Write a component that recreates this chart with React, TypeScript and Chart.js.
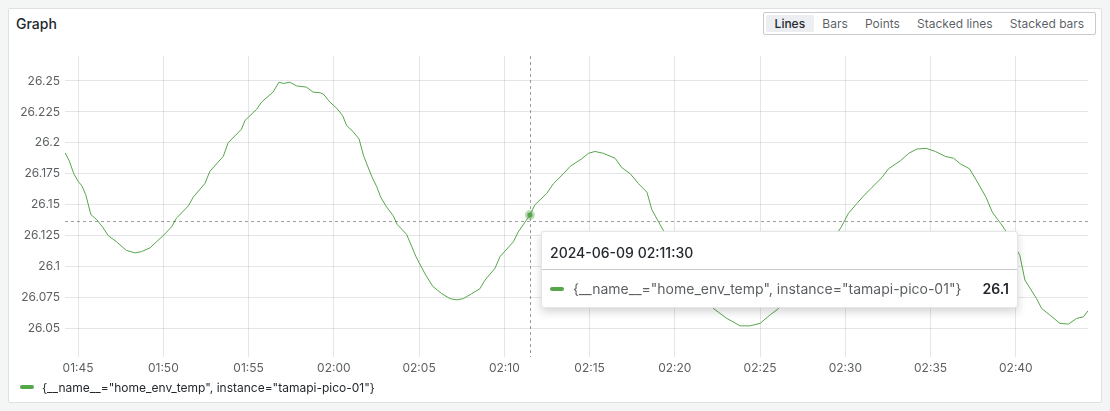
import React, { useEffect, useRef } from "react";
import { Chart, registerables } from "chart.js";

Chart.register(...registerables);

// ---- data ----
const times = [
  "01:44:14", "01:44:28", "01:44:45", "01:45:00", "01:45:14", "01:45:27", "01:45:45", "01:46:05",
  "01:46:26", "01:46:46", "01:47:15", "01:47:50", "01:48:20", "01:48:43", "01:49:13", "01:49:36",
  "01:50:00", "01:50:29", "01:50:46", "01:51:28", "01:51:45", "01:52:26", "01:52:44", "01:53:31",
  "01:53:48", "01:54:35", "01:54:47", "01:55:28", "01:55:46", "01:56:26", "01:56:47", "01:57:02",
  "01:57:25", "01:57:49", "01:58:24", "01:58:47", "01:59:11", "01:59:23", "01:59:46", "02:00:10",
  "02:00:31", "02:00:45", "02:01:08", "02:01:29", "02:01:44", "02:02:13", "02:02:31", "02:02:45",
  "02:03:06", "02:03:29", "02:03:43", "02:04:16", "02:04:49", "02:05:21", "02:05:48", "02:06:20",
  "02:06:49", "02:07:13", "02:07:36", "02:08:05", "02:08:34", "02:08:52", "02:09:27", "02:09:45",
  "02:10:32", "02:10:49", "02:11:30", "02:11:48", "02:12:29", "02:12:53", "02:13:28", "02:13:52",
  "02:14:32", "02:14:56", "02:15:19", "02:15:49", "02:16:30", "02:16:53", "02:17:23", "02:17:52",
  "02:18:22", "02:18:39", "02:19:20", "02:20:00", "02:20:42", "02:21:30", "02:22:16", "02:23:03",
  "02:23:50", "02:24:25", "02:25:00", "02:25:36", "02:26:00", "02:27:00", "02:28:00", "02:29:00",
  "02:29:46", "02:30:11", "02:30:41", "02:31:04", "02:31:34", "02:32:09", "02:32:32", "02:33:14",
  "02:33:43", "02:34:12", "02:34:45", "02:35:17", "02:35:52", "02:36:21", "02:36:45", "02:37:17",
  "02:37:44", "02:38:16", "02:38:37", "02:39:06", "02:39:21", "02:39:48", "02:40:14", "02:40:32",
  "02:41:13", "02:41:31", "02:42:00", "02:42:35", "02:43:05", "02:43:34", "02:43:58", "02:44:14",
];

const values = [
  26.192, 26.186, 26.175, 26.169, 26.165, 26.158, 26.142, 26.138,
  26.132, 26.125, 26.12, 26.113, 26.111, 26.112, 26.115, 26.12,
  26.125, 26.132, 26.139, 26.149, 26.156, 26.167, 26.177, 26.189,
  26.2, 26.211, 26.218, 26.227, 26.233, 26.241, 26.249, 26.248,
  26.249, 26.246, 26.245, 26.241, 26.2405, 26.2395, 26.233, 26.228,
  26.222, 26.214, 26.209, 26.203, 26.19, 26.173, 26.1645, 26.156,
  26.148, 26.141, 26.134, 26.126, 26.108, 26.094, 26.084, 26.078,
  26.074, 26.073, 26.074, 26.078, 26.082, 26.089, 26.0985, 26.108,
  26.12, 26.128, 26.1416, 26.15, 26.159, 26.167, 26.175, 26.181,
  26.187, 26.1915, 26.193, 26.1915, 26.1875, 26.18, 26.175, 26.167,
  26.16, 26.146, 26.129, 26.113, 26.097, 26.078, 26.066, 26.058,
  26.052, 26.052, 26.054, 26.061, 26.065, 26.079, 26.096, 26.116,
  26.132, 26.143, 26.151, 26.157, 26.164, 26.172, 26.179, 26.1855,
  26.1915, 26.195, 26.1955, 26.193, 26.189, 26.1875, 26.183, 26.179,
  26.1686, 26.1556, 26.144, 26.135, 26.13, 26.12, 26.109, 26.089,
  26.074, 26.066, 26.0607, 26.054, 26.0534, 26.058, 26.0593, 26.0642,
];

const rangeStart = "01:44:14";
const rangeEnd = "02:44:14";
const xTickLabels = [
  "01:45", "01:50", "01:55", "02:00", "02:05", "02:10",
  "02:15", "02:20", "02:25", "02:30", "02:35", "02:40",
];
const yTickValues = [26.05, 26.075, 26.1, 26.125, 26.15, 26.175, 26.2, 26.225, 26.25];
const yMin = 26.0268;
const yMax = 26.2702;

const crossTime = "02:11:30";
const crossValue = 26.137;
const tooltipDate = "2024-06-09";

const panelTitle = "Graph";
const seriesName = '{__name__="home_env_temp", instance="tamapi-pico-01"}';
const viewModes = ["Lines", "Bars", "Points", "Stacked lines", "Stacked bars"];
const activeMode = "Lines";

// ---- style ----
const GREEN = "#56A64B";
const TEXT = "#24292e";
const TEXT2 = "rgba(36,41,46,0.75)";
const GRID = "rgba(36,41,46,0.12)";
const FONT = "Inter, 'Noto Sans', sans-serif";

const toSec = (t: string) => {
  const parts = t.split(":").map(Number);
  return parts[0] * 3600 + parts[1] * 60 + (parts[2] || 0);
};
const pad2 = (n: number) => String(n).padStart(2, "0");
const fmtHM = (sec: number) => `${pad2(Math.floor(sec / 3600))}:${pad2(Math.floor((sec % 3600) / 60))}`;

const crosshairPlugin = {
  id: "crosshair",
  afterDatasetsDraw(chart: any) {
    const { ctx, chartArea, scales } = chart;
    const x = scales.x;
    const y = scales.y;
    const px = Math.round(x.getPixelForValue(toSec(crossTime))) + 0.5;
    const py = Math.round(y.getPixelForValue(crossValue)) + 0.5;
    ctx.save();
    ctx.strokeStyle = "rgba(36,41,46,0.45)";
    ctx.lineWidth = 1;
    ctx.setLineDash([3, 3]);
    ctx.beginPath();
    ctx.moveTo(px, chartArea.top);
    ctx.lineTo(px, chartArea.bottom);
    ctx.moveTo(chartArea.left, py);
    ctx.lineTo(chartArea.right, py);
    ctx.stroke();
    ctx.setLineDash([]);
    const idx = times.indexOf(crossTime);
    const vx = x.getPixelForValue(toSec(times[idx]));
    const vy = y.getPixelForValue(values[idx]);
    ctx.fillStyle = "rgba(86,166,75,0.4)";
    ctx.beginPath();
    ctx.arc(vx, vy, 5, 0, Math.PI * 2);
    ctx.fill();
    ctx.fillStyle = GREEN;
    ctx.beginPath();
    ctx.arc(vx, vy, 2.6, 0, Math.PI * 2);
    ctx.fill();
    ctx.restore();
  },
};

function TimeSeries() {
  const ref = useRef<HTMLCanvasElement | null>(null);
  useEffect(() => {
    if (!ref.current) return;
    const chart = new Chart(ref.current, {
      type: "line",
      data: {
        datasets: [
          {
            label: seriesName,
            data: times.map((t, i) => ({ x: toSec(t), y: values[i] })),
            borderColor: GREEN,
            borderWidth: 1,
            pointRadius: 0,
            tension: 0,
            fill: false,
          },
        ],
      },
      options: {
        animation: false,
        responsive: false,
        maintainAspectRatio: false,
        events: [],
        layout: { padding: { top: 16, right: 14, bottom: 0, left: 0 } },
        plugins: { legend: { display: false }, tooltip: { enabled: false } },
        scales: {
          x: {
            type: "linear",
            min: toSec(rangeStart),
            max: toSec(rangeEnd),
            border: { display: false },
            grid: { color: GRID, drawTicks: false },
            afterBuildTicks: (axis: any) => {
              axis.ticks = xTickLabels.map((l) => ({ value: toSec(l) }));
            },
            ticks: {
              autoSkip: false,
              maxRotation: 0,
              padding: 4,
              color: TEXT2,
              font: { family: FONT, size: 12 },
              callback: (v: any) => fmtHM(Number(v)),
            },
            afterFit: (axis: any) => {
              axis.height = 23;
            },
          },
          y: {
            type: "linear",
            min: yMin,
            max: yMax,
            border: { display: false },
            grid: { color: GRID, drawTicks: false },
            afterBuildTicks: (axis: any) => {
              axis.ticks = yTickValues.map((v) => ({ value: v }));
            },
            ticks: {
              padding: 5,
              color: TEXT2,
              font: { family: FONT, size: 12 },
              callback: (v: any) => String(Number(Number(v).toFixed(3))),
            },
            afterFit: (axis: any) => {
              axis.width = 57;
            },
          },
        },
      },
      plugins: [crosshairPlugin],
    } as any);
    return () => chart.destroy();
  }, []);
  return (
    <canvas
      ref={ref}
      width={1094}
      height={340}
      style={{ position: "absolute", left: 0, top: 32, width: 1094, height: 340 }}
    />
  );
}

export default function App() {
  useEffect(() => {
    document.body.style.background = "#f4f5f5";
    document.body.style.margin = "8px";
  }, []);
  const crossIdx = times.indexOf(crossTime);
  return (
    <div
      style={{
        position: "relative",
        width: 1094,
        height: 395,
        background: "#ffffff",
        boxShadow: "inset 0 0 0 1px #dfe0e3",
        borderRadius: 2,
        fontFamily: FONT,
        color: TEXT,
        overflow: "hidden",
      }}
    >
      <div
        style={{
          position: "absolute",
          left: 8,
          top: 6,
          height: 20,
          lineHeight: "20px",
          fontSize: 14,
          fontWeight: 500,
          color: TEXT,
        }}
      >
        {panelTitle}
      </div>

      <div
        style={{
          position: "absolute",
          left: 755,
          top: 4,
          height: 23,
          boxSizing: "border-box",
          border: "1px solid #c8cacd",
          borderRadius: 2,
          padding: 2,
          display: "flex",
        }}
      >
        {viewModes.map((m) => (
          <div
            key={m}
            style={{
              height: 17,
              lineHeight: "17px",
              padding: "0 8.6px",
              fontSize: 12,
              fontWeight: m === activeMode ? 500 : 400,
              color: m === activeMode ? TEXT : TEXT2,
              background: m === activeMode ? "#eceef1" : "transparent",
              borderRadius: 2,
              whiteSpace: "nowrap",
            }}
          >
            {m}
          </div>
        ))}
      </div>

      <TimeSeries />

      <div
        style={{
          position: "absolute",
          left: 533,
          top: 223,
          width: 477,
          height: 77,
          boxSizing: "border-box",
          background: "#ffffff",
          border: "1px solid rgba(36,41,46,0.12)",
          borderRadius: 3,
          boxShadow: "0 4px 8px rgba(24,26,27,0.18)",
        }}
      >
        <div
          style={{
            height: 38,
            boxSizing: "border-box",
            paddingTop: 3,
            paddingLeft: 8,
            display: "flex",
            alignItems: "center",
            fontSize: 14,
            fontWeight: 500,
            borderBottom: "1px solid rgba(36,41,46,0.25)",
          }}
        >
          {`${tooltipDate} ${crossTime}`}
        </div>
        <div
          style={{
            height: 37,
            display: "flex",
            alignItems: "center",
            padding: "0 8px",
            fontSize: 14,
          }}
        >
          <span
            style={{ width: 14, height: 4, borderRadius: 2, background: GREEN, marginRight: 9, flex: "none" }}
          />
          <span style={{ flex: 1, color: TEXT2 }}>{seriesName}</span>
          <span style={{ fontWeight: 600, color: TEXT }}>{values[crossIdx].toFixed(1)}</span>
        </div>
      </div>

      <div
        style={{
          position: "absolute",
          left: 12,
          top: 371,
          height: 16,
          display: "flex",
          alignItems: "center",
          fontSize: 12,
          color: TEXT,
        }}
      >
        <span style={{ width: 14, height: 4, borderRadius: 2, background: GREEN, marginRight: 8 }} />
        <span>{seriesName}</span>
      </div>
    </div>
  );
}
